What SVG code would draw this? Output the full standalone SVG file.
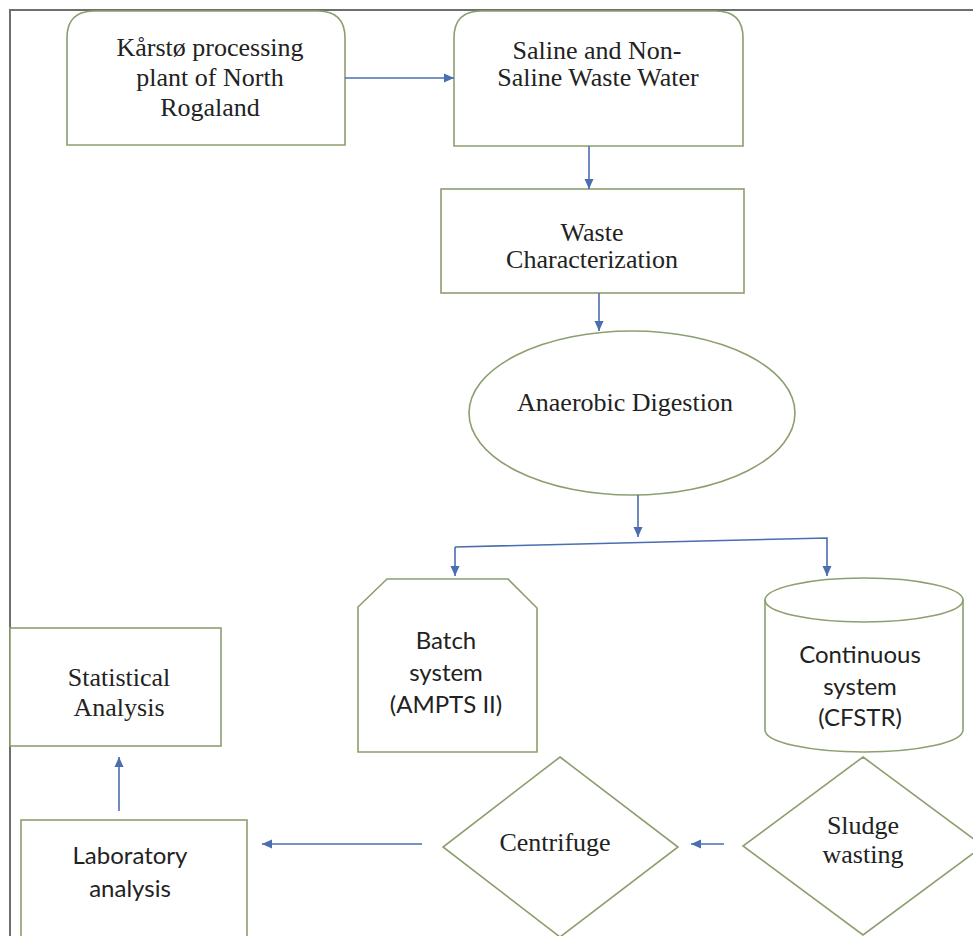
<svg xmlns="http://www.w3.org/2000/svg" width="973" height="936" viewBox="0 0 973 936">
  <defs>
    <marker id="arrow" viewBox="0 0 10 10" refX="10" refY="5" markerWidth="10" markerHeight="10" markerUnits="userSpaceOnUse" orient="auto">
      <path d="M0,0.5 L10,5 L0,9.5 Z" fill="#4a6eb0"/>
    </marker>
    <style>
      .node { fill: #ffffff; stroke: #8c9f6e; stroke-width: 1.6; }
      .frame { fill: none; stroke: #6e6e6e; stroke-width: 2; }
      .edge { fill: none; stroke: #4a6eb0; stroke-width: 1.6; marker-end: url(#arrow); }
      .serif { font-family: "Liberation Serif", "Times New Roman", serif; font-size: 26px; fill: #222222; text-anchor: middle; }
      .sans { font-family: Lato, "Liberation Sans", sans-serif; font-size: 24px; fill: #222222; text-anchor: middle; }
    </style>
  </defs>

  <rect width="973" height="936" fill="#ffffff"/>

  <!-- page frame: top and left rules -->
  <path class="frame" d="M9,10 H973 M10,9 V936"/>

  <g id="karsto">
    <path class="node" d="M67,145 V38 Q67,11 94,11 H318 Q345,11 345,38 V145 Z"/>
    <text class="serif" x="210" y="56">Kårstø processing</text>
    <text class="serif" x="210" y="86">plant of North</text>
    <text class="serif" x="210" y="116">Rogaland</text>
  </g>

  <g id="wastewater">
    <path class="node" d="M454,146 V38 Q454,11 481,11 H716 Q743,11 743,38 V146 Z"/>
    <text class="serif" x="597" y="59">Saline and Non-</text>
    <text class="serif" x="598" y="86">Saline Waste Water</text>
  </g>

  <g id="characterization">
    <rect class="node" x="441" y="189" width="303" height="104"/>
    <text class="serif" x="592" y="241">Waste</text>
    <text class="serif" x="592" y="268">Characterization</text>
  </g>

  <g id="digestion">
    <ellipse class="node" cx="632" cy="413" rx="163" ry="82"/>
    <text class="serif" x="625" y="411">Anaerobic Digestion</text>
  </g>

  <g id="batch">
    <path class="node" d="M387,579 H508 L537,608 V752 H358 V607 Z"/>
    <text class="sans" x="446" y="649">Batch</text>
    <text class="sans" x="446" y="681">system</text>
    <text class="sans" x="446" y="713">(AMPTS II)</text>
  </g>

  <g id="continuous">
    <path class="node" d="M765,600 V730 A99,22 0 0 0 963,730 V600 A99,22 0 0 0 765,600 Z"/>
    <path class="node" d="M765,600 A99,22 0 0 0 963,600" fill="none"/>
    <text class="sans" x="860" y="663">Continuous</text>
    <text class="sans" x="860" y="695">system</text>
    <text class="sans" x="860" y="726">(CFSTR)</text>
  </g>

  <g id="sludge">
    <path class="node" d="M863,757 L983,846 L863,935 L743,846 Z"/>
    <text class="serif" x="863" y="834">Sludge</text>
    <text class="serif" x="863" y="863">wasting</text>
  </g>

  <g id="centrifuge">
    <path class="node" d="M560,757 L678,847 L560,937 L443,847 Z"/>
    <text class="serif" x="555" y="851">Centrifuge</text>
  </g>

  <g id="statistical">
    <rect class="node" x="10" y="628" width="211" height="118"/>
    <text class="serif" x="119" y="686">Statistical</text>
    <text class="serif" x="119" y="716">Analysis</text>
  </g>

  <g id="laboratory">
    <rect class="node" x="21" y="820" width="226" height="130"/>
    <text class="sans" x="130" y="864">Laboratory</text>
    <text class="sans" x="130" y="897">analysis</text>
  </g>

  <g id="connectors">
    <path class="edge" d="M345,78 H454"/>
    <path class="edge" d="M589,146 V189"/>
    <path class="edge" d="M599,293 V331"/>
    <path class="edge" d="M638,495 V537"/>
    <path class="edge" d="M455,547 L827,538 V576"/>
    <path class="edge" d="M455,547 V576"/>
    <path class="edge" d="M724,844 H691"/>
    <path class="edge" d="M422,844 H262"/>
    <path class="edge" d="M119,811 V757"/>
  </g>
</svg>
